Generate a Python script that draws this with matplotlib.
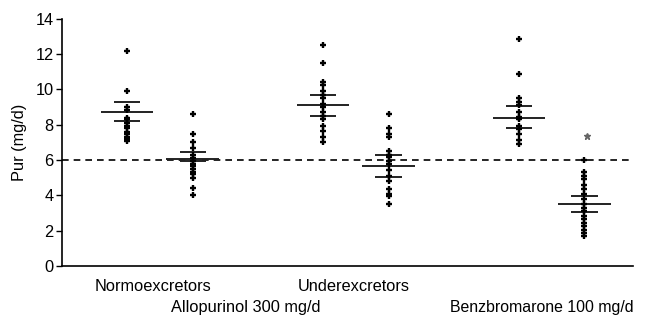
import matplotlib
matplotlib.use("Agg")
import matplotlib.pyplot as plt

plt.rcParams['font.family'] = ['Liberation Sans', 'DejaVu Sans']

# ---- data ----
# x positions of the six columns (pairs of allopurinol / benzbromarone)
positions = [1, 2, 4, 5, 7, 8]

normo_allo = [12.2, 9.9, 9.0, 8.85, 8.4, 8.3, 8.1, 7.95, 7.8, 7.6, 7.45, 7.3, 7.2, 7.1]
normo_benz = [8.6, 7.5, 7.0, 6.7, 6.3, 6.1, 5.95, 5.8, 5.65, 5.5, 5.35, 5.2, 5.0, 4.4, 4.0]
under_allo = [12.5, 11.5, 10.45, 10.25, 9.9, 9.7, 9.5, 9.2, 9.0, 8.7, 8.5, 8.3, 7.95, 7.65, 7.3, 7.05]
under_benz = [8.6, 7.8, 7.5, 7.3, 6.5, 6.3, 6.15, 5.95, 5.75, 5.45, 5.1, 4.8, 4.35, 4.1, 3.95, 3.5]
third_allo = [12.85, 10.85, 9.5, 9.3, 9.1, 8.7, 8.45, 8.4, 8.35, 7.95, 7.75, 7.45, 7.15, 6.9]
third_benz = [6.0, 5.3, 5.1, 4.9, 4.6, 4.35, 4.05, 3.8, 3.5, 3.3, 3.1, 2.85, 2.65, 2.45, 2.25, 2.05, 1.85, 1.7]

groups = [normo_allo, normo_benz, under_allo, under_benz, third_allo, third_benz]

means = [8.75, 6.07, 9.1, 5.67, 8.4, 3.5]
sem_upper = [9.3, 6.48, 9.66, 6.3, 9.07, 3.97]
sem_lower = [8.2, 5.95, 8.5, 5.05, 7.8, 3.07]

star_x = 8.04
star_y = 7.35
threshold = 6.0

y_ticks = [0, 2, 4, 6, 8, 10, 12, 14]

# ---- figure ----
fig = plt.figure(figsize=(6.47, 3.2), dpi=100)
ax = fig.add_axes([0.0958, 0.169, 0.8822, 0.772])

# threshold line
ax.axhline(threshold, color='black', lw=1.2, ls=(0, (4, 3)), zorder=1)

# individual points
for x, vals in zip(positions, groups):
    ax.plot([x] * len(vals), vals, ls='none', marker='+', ms=5,
            mew=1.7, color='black', zorder=3)

# mean and SEM bars
for x, m, hi, lo in zip(positions, means, sem_upper, sem_lower):
    ax.hlines(m, x - 0.4, x + 0.4, color='#222222', lw=1.4, zorder=2)
    ax.hlines([hi, lo], x - 0.2, x + 0.2, color='#222222', lw=1.4, zorder=2)

# significance star
ax.plot(star_x, star_y, marker='*', ms=4.5, color='#666666', ls='none')

fs = 11.8
ax.set_xlim(0, 8.74)
ax.set_ylim(0, 14)
ax.set_yticks(y_ticks)
ax.set_xticks([])
ax.tick_params(axis='y', labelsize=fs, length=4, width=1, pad=2)
ax.set_ylabel('Pur (mg/d)', fontsize=fs, labelpad=6)

for side in ['top', 'right']:
    ax.spines[side].set_visible(False)
for side in ['left', 'bottom']:
    ax.spines[side].set_linewidth(1.2)

# group labels under the axis
tr = ax.get_xaxis_transform()
ax.text(1.4, -0.085, 'Normoexcretors', transform=tr, ha='center', va='center', fontsize=fs)
ax.text(4.47, -0.085, 'Underexcretors', transform=tr, ha='center', va='center', fontsize=fs)
ax.text(2.82, -0.17, 'Allopurinol 300 mg/d', transform=tr, ha='center', va='center', fontsize=fs)
ax.text(7.34, -0.17, 'Benzbromarone 100 mg/d', transform=tr, ha='center', va='center', fontsize=11.4)

fig.savefig('out.png', dpi=100)
